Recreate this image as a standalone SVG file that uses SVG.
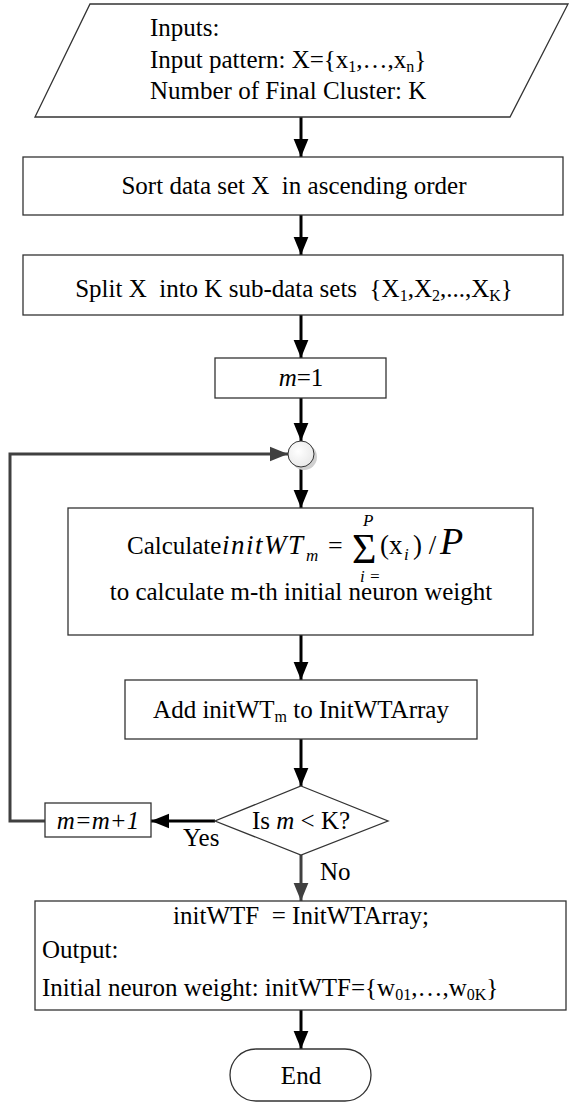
<svg xmlns="http://www.w3.org/2000/svg" width="576" height="1102" viewBox="0 0 576 1102">
<defs>
<style>
.box{fill:#fff;stroke:#333;stroke-width:1.3}
.t{font-family:"Liberation Serif","Times New Roman",serif;font-size:25px;fill:#000}
.i{font-style:italic}
.sb{font-size:16px}
.c{stroke:#000;stroke-width:3;fill:none}
.g{stroke:#404040;stroke-width:3;fill:none}
</style>
<marker id="ah" markerUnits="userSpaceOnUse" markerWidth="18" markerHeight="22" refX="22" refY="9" orient="auto" viewBox="0 0 22 18">
<path d="M0,0 L22,9 L0,18 Z" fill="#000"/>
</marker>
<marker id="ahg" markerUnits="userSpaceOnUse" markerWidth="18" markerHeight="22" refX="22" refY="9" orient="auto" viewBox="0 0 22 18">
<path d="M0,0 L22,9 L0,18 Z" fill="#404040"/>
</marker>
<radialGradient id="cg" cx="0.4" cy="0.4" r="0.7">
<stop offset="0" stop-color="#fff"/>
<stop offset="1" stop-color="#e6e6e6"/>
</radialGradient>
</defs>
<g id="connectors">
<line class="c" x1="301" y1="117" x2="301" y2="157" marker-end="url(#ah)"/>
<line class="c" x1="301" y1="215" x2="301" y2="255" marker-end="url(#ah)"/>
<line class="c" x1="301" y1="315" x2="301" y2="358" marker-end="url(#ah)"/>
<line class="c" x1="301" y1="398" x2="301" y2="441" marker-end="url(#ah)"/>
<line class="c" x1="301" y1="467" x2="301" y2="508" marker-end="url(#ah)"/>
<line class="c" x1="301" y1="635" x2="301" y2="680" marker-end="url(#ah)"/>
<line class="c" x1="301" y1="739" x2="301" y2="786" marker-end="url(#ah)"/>
<line class="c" x1="215" y1="821" x2="151" y2="821" marker-end="url(#ah)"/>
<polyline class="g" points="45,821 10,821 10,454 288,454" marker-end="url(#ahg)"/>
<line class="g" x1="301" y1="855" x2="301" y2="901" marker-end="url(#ahg)"/>
<line class="c" x1="301" y1="1010" x2="301" y2="1049" marker-end="url(#ah)"/>
</g>
<g id="inputs">
<polygon class="box" points="90,4 568,4 510,117 35,117"/>
<text class="t" x="150" y="36">Inputs:</text>
<text class="t" x="150" y="68">Input pattern: X={x<tspan class="sb" dy="4">1</tspan><tspan dy="-4">,…,x</tspan><tspan class="sb" dy="4">n</tspan><tspan dy="-4">}</tspan></text>
<text class="t" x="150" y="99">Number of Final Cluster: K</text>
</g>
<g id="sort">
<rect class="box" x="23" y="157" width="540" height="58"/>
<text class="t" x="294" y="194" text-anchor="middle" xml:space="preserve">Sort data set X  in ascending order</text>
</g>
<g id="split">
<rect class="box" x="23" y="255" width="540" height="60"/>
<text class="t" x="294" y="297" text-anchor="middle" xml:space="preserve">Split X  into K sub-data sets  {X<tspan class="sb" dy="4">1</tspan><tspan dy="-4">,X</tspan><tspan class="sb" dy="4">2</tspan><tspan dy="-4">,...,X</tspan><tspan class="sb" dy="4">K</tspan><tspan dy="-4">}</tspan></text>
</g>
<g id="m1">
<rect class="box" x="215" y="358" width="171" height="40"/>
<text class="t" x="301" y="386" text-anchor="middle"><tspan class="i">m</tspan>=1</text>
</g>
<g id="junction">
<circle cx="304" cy="457" r="13" fill="#d0d0d0"/>
<circle cx="301" cy="454" r="13" fill="url(#cg)" stroke="#333" stroke-width="1"/>
</g>
<g id="calc">
<rect class="box" x="68" y="508" width="465" height="127"/>
<text class="t" x="127" y="554">Calculate</text>
<text class="t i" x="222" y="554" style="font-size:27px" letter-spacing="1.5">initWT</text>
<text class="t i" x="306" y="561" style="font-size:17px">m</text>
<text class="t" x="328" y="554" style="font-size:26px">=</text>
<text class="t" x="352" y="563" style="font-size:42px">Σ</text>
<text class="t i" x="363" y="526" style="font-size:17px">P</text>
<text class="t i" x="360" y="582" style="font-size:17px">i =</text>
<text class="t" x="380" y="554" style="font-size:27px">(x</text>
<text class="t i" x="404" y="560" style="font-size:17px">i</text>
<text class="t" x="413" y="554" style="font-size:27px">) /</text>
<text class="t i" x="440" y="554" style="font-size:38px">P</text>
<text class="t" x="301" y="600" text-anchor="middle">to calculate m-th initial neuron weight</text>
</g>
<g id="add">
<rect class="box" x="125" y="680" width="352" height="59"/>
<text class="t" x="301" y="718" text-anchor="middle">Add initWT<tspan class="sb" dy="4">m</tspan><tspan dy="-4"> to InitWTArray</tspan></text>
</g>
<g id="decision">
<polygon class="box" points="301,786 388,821 301,855 215,821"/>
<text class="t" x="301" y="829" text-anchor="middle">Is <tspan class="i">m</tspan> &lt; K?</text>
</g>
<g id="inc">
<rect class="box" x="45" y="803" width="106" height="34"/>
<text class="t i" x="98" y="829" text-anchor="middle">m=m+1</text>
</g>
<text class="t" x="183" y="846">Yes</text>
<text class="t" x="320" y="880">No</text>
<g id="output">
<rect class="box" x="35" y="901" width="531" height="109"/>
<text class="t" x="301" y="924" text-anchor="middle" xml:space="preserve">initWTF  = InitWTArray;</text>
<text class="t" x="42" y="958">Output:</text>
<text class="t" x="42" y="996">Initial neuron weight: initWTF={w<tspan class="sb" dy="4">01</tspan><tspan dy="-4">,…,w</tspan><tspan class="sb" dy="4">0K</tspan><tspan dy="-4">}</tspan></text>
</g>
<g id="end">
<rect class="box" x="230" y="1049" width="141" height="52" rx="26" ry="26"/>
<text class="t" x="301" y="1084" text-anchor="middle">End</text>
</g>
</svg>
